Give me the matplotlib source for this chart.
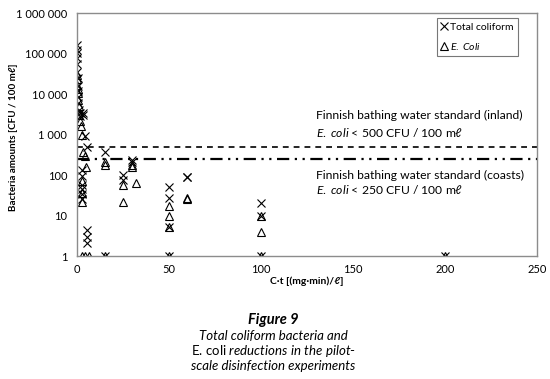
import matplotlib.pyplot as plt
from matplotlib.ticker import FixedLocator, FixedFormatter

plt.rcParams['font.family'] = ['Lato', 'DejaVu Sans']
plt.rcParams['mathtext.fontset'] = 'custom'
plt.rcParams['mathtext.rm'] = 'Lato'
plt.rcParams['mathtext.it'] = 'Lato:italic'
plt.rcParams['mathtext.bf'] = 'Lato:bold'

# Total coliform (x markers)
tc_x = [0, 0, 0, 0, 0, 0, 0.5, 0.5, 0.5, 0.5, 0.5, 1, 1.5, 1.5, 3, 3.5,
        4.5, 5.5, 2.5, 2.5, 2.5, 2.5, 2.5, 2.5, 5.5, 5.5, 5.5,
        15, 15, 25, 25, 30, 30, 50, 50, 50, 50, 60, 60, 100, 100, 100, 200]
tc_y = [166000, 126000, 105000, 79000, 54000, 36000, 25000, 15500, 11700, 8700, 6000, 4000, 3500, 2800, 3500, 3000,
        900, 500, 134, 94, 58, 45, 34, 26, 4.4, 3, 2.1,
        380, 1, 100, 75, 240, 210, 50, 27, 5.3, 1, 92, 88, 20, 10, 1, 1]

# E. coli (triangles)
ec_x = [0, 0, 0, 0.5, 0.5, 0.5, 1, 1, 1.5, 2, 2.5,
        3.5, 4.5, 5, 2.5, 2.5, 2.5, 2.5, 4.5, 6.5,
        15, 15, 15, 25, 25, 30, 30, 32, 50, 50, 50, 50, 60, 60, 100, 100, 100, 200]
ec_y = [30000, 23000, 17000, 13000, 10700, 7300, 5000, 3100, 2100, 1600, 1000,
        380, 290, 160, 70, 37, 22, 1, 1, 1,
        215, 180, 1, 57, 21, 180, 160, 65, 17, 10, 5.3, 1, 27, 25, 10, 4, 1, 1]

# bathing water standards
std_inland = 500
std_coast = 250

y_ticks = [1, 10, 100, 1000, 10000, 100000, 1000000]
y_labels = ['1', '10', '100', '1 000', '10 000', '100 000', '1 000 000']
x_ticks = [0, 50, 100, 150, 200, 250]

fig = plt.figure(figsize=(5.5, 3.79), dpi=100)
ax = fig.add_axes([0.14, 0.3245, 0.836, 0.641])

ax.plot(tc_x, tc_y, linestyle='none', marker='x', ms=6, mew=0.8, color='black',
        label='Total coliform')
ax.plot(ec_x, ec_y, linestyle='none', marker='^', ms=6, mew=0.8, mfc='none',
        mec='black', label='$\\it{E.\\ Coli}$')

ax.plot([0, 250], [std_inland, std_inland], color='black', lw=1.2,
        linestyle=(0, (3.5, 3)))
ax.plot([0, 250], [std_coast, std_coast], color='black', lw=1.6,
        linestyle=(0, (5.5, 2.5, 1, 2.5, 1, 2.5)))

ax.set_yscale('log')
ax.set_xlim(0, 250)
ax.set_ylim(1, 1000000)
ax.yaxis.set_major_locator(FixedLocator(y_ticks))
ax.yaxis.set_major_formatter(FixedFormatter(y_labels))
ax.yaxis.set_minor_locator(FixedLocator([]))
ax.set_xticks(x_ticks)
ax.tick_params(axis='both', labelsize=8, length=0)
ax.tick_params(axis='y', pad=7)
ax.tick_params(axis='x', pad=6)

for s in ['left', 'bottom', 'right', 'top']:
    ax.spines[s].set_color('#8c8c8c')
    ax.spines[s].set_linewidth(1.0)

ax.set_ylabel('Bacteria amounts [CFU / 100 mℓ]', fontsize=7.1, fontweight='bold')
ax.yaxis.set_label_coords(-0.128, 0.49)
ax.set_xlabel('C·t [(mg·min)/ℓ]', fontsize=7.5, fontweight='bold', labelpad=1)

ann = dict(fontsize=8.7, va='center')
ax.text(130, 2900, 'Finnish bathing water standard (inland)', **ann)
ax.text(130, 1110, '$\\it{E.\\ coli}$ < 500 CFU / 100 mℓ', **ann)
ax.text(130, 100, 'Finnish bathing water standard (coasts)', **ann)
ax.text(130, 43, '$\\it{E.\\ coli}$ < 250 CFU / 100 mℓ', **ann)

leg = ax.legend(loc='upper right', bbox_to_anchor=(0.959, 0.979), fontsize=7.5,
                frameon=True, fancybox=False, handlelength=0.6, handletextpad=0.3,
                borderpad=0.4, labelspacing=0.9, borderaxespad=0)
leg.get_frame().set_edgecolor('#555555')
leg.get_frame().set_linewidth(0.8)

fig.text(0.497, 0.156, 'Figure 9', ha='center', va='center', fontsize=10.5,
         fontweight='bold', style='italic')
fig.text(0.497, 0.113, 'Total coliform bacteria and', ha='center', va='center',
         fontsize=9.5, style='italic')
fig.text(0.497, 0.074, 'E. coli $\\it{reductions\\ in\\ the\\ pilot}$-', ha='center',
         va='center', fontsize=9.5)
fig.text(0.497, 0.034, 'scale disinfection experiments', ha='center', va='center',
         fontsize=9.5, style='italic')

fig.savefig('out.png', dpi=100)
